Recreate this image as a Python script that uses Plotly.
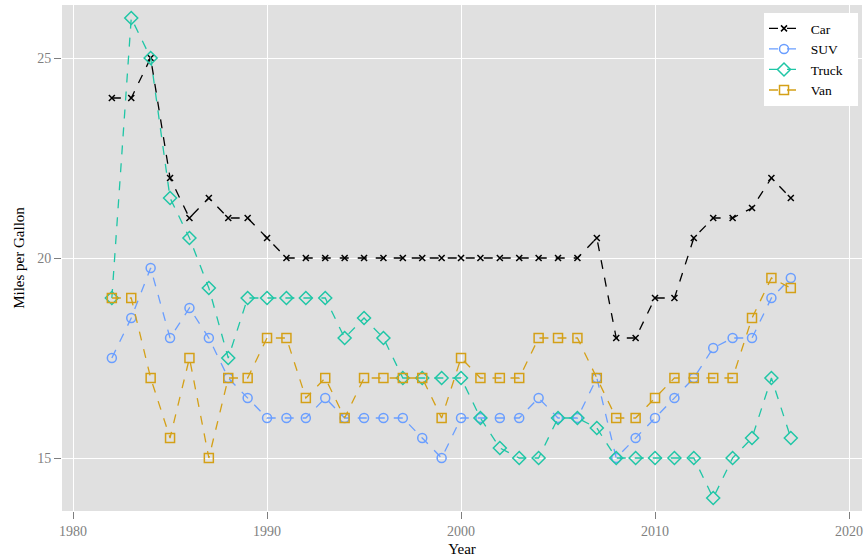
import plotly.graph_objects as go

years = list(range(1982, 2018))
car = [24, 24, 25, 22, 21, 21.5, 21, 21, 20.5, 20, 20, 20, 20, 20, 20, 20, 20, 20, 20, 20,
       20, 20, 20, 20, 20, 20.5, 18, 18, 19, 19, 20.5, 21, 21, 21.25, 22, 21.5]
suv = [17.5, 18.5, 19.75, 18, 18.75, 18, 17, 16.5, 16, 16, 16, 16.5, 16, 16, 16, 16, 15.5, 15,
       16, 16, 16, 16, 16.5, 16, 16, 17, 15, 15.5, 16, 16.5, 17, 17.75, 18, 18, 19, 19.5]
truck = [19, 26, 25, 21.5, 20.5, 19.25, 17.5, 19, 19, 19, 19, 19, 18, 18.5, 18, 17, 17, 17,
         17, 16, 15.25, 15, 15, 16, 16, 15.75, 15, 15, 15, 15, 15, 14, 15, 15.5, 17, 15.5]
van = [19, 19, 17, 15.5, 17.5, 15, 17, 17, 18, 18, 16.5, 17, 16, 17, 17, 17, 17, 16,
       17.5, 17, 17, 17, 18, 18, 18, 17, 16, 16, 16.5, 17, 17, 17, 17, 18.5, 19.5, 19.25]

series = [
    ("Car", car, "#000000", "x-thin-open", 6),
    ("SUV", suv, "#6a9eff", "circle-open", 9),
    ("Truck", truck, "#1fc6a6", "diamond-open", 10),
    ("Van", van, "#d4a017", "square-open", 9),
]

fig = go.Figure()
for name, vals, color, sym, msize in series:
    fig.add_trace(go.Scatter(
        x=years, y=vals, name="\u00a0\u00a0" + name + "\u00a0\u00a0\u00a0", mode="lines+markers",
        line=dict(color=color, width=1.3, dash="dash"),
        marker=dict(symbol=sym, size=msize, color=color,
                    line=dict(color=color, width=1.5)),
    ))

font_family = "Liberation Serif, DejaVu Serif, serif"
fig.update_layout(
    width=866, height=558,
    margin=dict(l=62, r=4, t=5, b=47),
    paper_bgcolor="white",
    plot_bgcolor="#e0e0e0",
    font=dict(family=font_family, size=14, color="#000000"),
    legend=dict(x=0.995, y=0.984, xanchor="right", yanchor="top",
                bgcolor="white", font=dict(size=13.5, family=font_family),
                tracegroupgap=2, borderwidth=0),
    showlegend=True,
)
fig.update_xaxes(
    range=[1979.43, 2020.67], tickvals=[1980, 1990, 2000, 2010, 2020],
    showgrid=True, gridcolor="white", gridwidth=1.2, zeroline=False,
    ticks="outside", ticklen=7, tickcolor="#7f7f7f",
    tickfont=dict(color="#7f7f7f", size=14), automargin=False,
    title=dict(text="Year", font=dict(size=15), standoff=5),
)
fig.update_yaxes(
    range=[13.675, 26.325], tickvals=[15, 20, 25],
    showgrid=True, gridcolor="white", gridwidth=1.2, zeroline=False,
    ticks="outside", ticklen=7, tickcolor="#7f7f7f",
    tickfont=dict(color="#7f7f7f", size=14), automargin=False,
    title=dict(text="Miles per Gallon", font=dict(size=15), standoff=8),
)

fig.write_html("out.html", config={"displayModeBar": False},
               post_script="document.body.style.margin='0';")
